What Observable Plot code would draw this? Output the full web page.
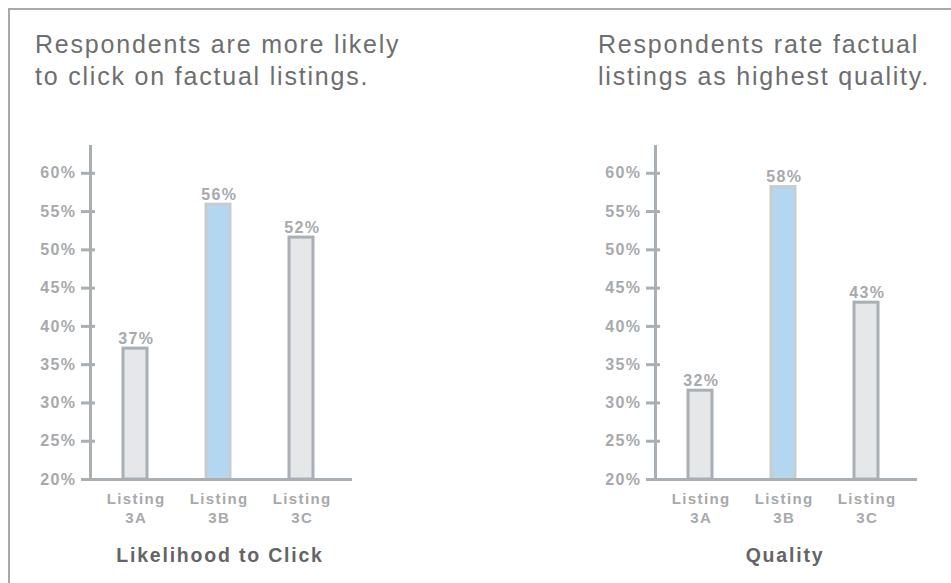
<!DOCTYPE html>
<html>
<head>
<meta charset="utf-8">
<script src="https://cdn.jsdelivr.net/npm/d3@7"></script>
<script src="https://cdn.jsdelivr.net/npm/@observablehq/plot@0.6"></script>
<style>
  html, body { margin: 0; padding: 0; background: #fff; }
  #wrap { position: relative; width: 951px; height: 583px; overflow: hidden; background: #fff;
          font-family: "Liberation Sans", Arial, Helvetica, sans-serif; }
  .box { position: absolute; left: 8px; top: 8px; width: 1200px; height: 1200px;
         border-top: 2.5px solid #a9a9a9; border-left: 2.5px solid #a9a9a9; box-sizing: border-box; }
  .title { position: absolute; top: 28px; font-size: 25px; line-height: 32px; color: #6d6e71;
           letter-spacing: 1.8px; white-space: nowrap; }
  .caption { position: absolute; top: 545px; width: 260px; text-align: center; font-size: 19.5px;
             line-height: 20px; font-weight: bold; color: #636466; letter-spacing: 1.8px; }
  .chart { position: absolute; top: 130px; width: 370px; }
  .chart svg { letter-spacing: 1.4px; max-width: none !important; }
</style>
</head>
<body>
<div id="wrap">
  <div class="box"></div>
  <div class="title" style="left:35px">Respondents are more likely<br>to click on factual listings.</div>
  <div class="title" style="left:598px">Respondents rate factual<br>listings as highest quality.</div>
  <div class="chart" id="c1" style="left:0px"></div>
  <div class="chart" id="c2" style="left:565px"></div>
  <div class="caption" style="left:90px">Likelihood to Click</div>
  <div class="caption" style="left:655px">Quality</div>
</div>
<script>
const categories = ["Listing 3A", "Listing 3B", "Listing 3C"];
const clickValues = [37.1, 55.9, 51.6];
const qualityValues = [31.6, 58.2, 43.1];
const yTicks = [20, 25, 30, 35, 40, 45, 50, 55, 60];
const highlight = "Listing 3B";

const axisColor = "#a8afb5";
const labelColor = "#a7a9ac";
const barFill = "#e6e7e9";
const barFillHi = "#b3d7f0";
const barStrokeHi = "#c9cccf";

function makeChart(values, frameLeft) {
  const data = categories.map((c, i) => ({cat: c, value: values[i]}));
  const W = frameLeft + 260 + 20;
  return Plot.plot({
    width: W,
    height: 400,
    marginLeft: frameLeft,
    marginRight: 20,
    marginTop: 16,
    marginBottom: 51,
    style: {fontFamily: '"Liberation Sans", Arial, Helvetica, sans-serif', background: "transparent"},
    x: {domain: categories, paddingInner: 0.71, paddingOuter: 0.42, align: 0.47, axis: null},
    y: {domain: [20, 63.5], axis: null},
    marks: [
      Plot.barY(data, {
        x: "cat", y1: 20, y2: "value",
        fill: d => d.cat === highlight ? barFillHi : barFill,
        stroke: d => d.cat === highlight ? barStrokeHi : axisColor,
        strokeWidth: 3
      }),
      Plot.text(data, {
        x: "cat", y: "value", text: d => d3.format(".0f")(d.value) + "%",
        lineAnchor: "bottom", dy: -5, dx: 0.8,
        fill: labelColor, fontSize: 16, fontWeight: "bold"
      }),
      Plot.axisY({
        ticks: yTicks, tickFormat: d => d + "%", tickSize: 14, dx: 5, tickPadding: 5, label: null,
        stroke: axisColor, strokeWidth: 3, fill: labelColor, fontSize: 16, fontWeight: "bold"
      }),
      Plot.axisX({
        tickSize: 0, tickPadding: 11, tickFormat: d => d.replace(" ", "\n"), label: null,
        fill: labelColor, fontSize: 15, fontWeight: "bold", lineHeight: 1.28, dx: 0.7
      }),
      Plot.frame({anchor: "left", stroke: axisColor, strokeWidth: 3}),
      Plot.frame({anchor: "bottom", stroke: axisColor, strokeWidth: 3})
    ]
  });
}

document.getElementById("c1").appendChild(makeChart(clickValues, 90));
document.getElementById("c2").appendChild(makeChart(qualityValues, 90));
</script>
</body>
</html>
